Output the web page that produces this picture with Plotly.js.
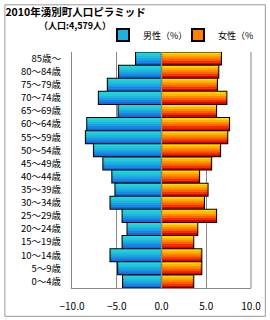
<!DOCTYPE html>
<html><head><meta charset="utf-8">
<script src="https://cdn.plot.ly/plotly-3.0.1.min.js"></script>
<style>html,body{margin:0;padding:0;background:#fff;}#chart{width:270px;height:320px;}</style>
</head><body><div id="chart"></div>
<script>
// Categories listed bottom to top
const ageGroups = ['0〜4歳','5〜9歳','10〜14歳','15〜19歳','20〜24歳','25〜29歳','30〜34歳','35〜39歳','40〜44歳','45〜49歳','50〜54歳','55〜59歳','60〜64歳','65〜69歳','70〜74歳','75〜79歳','80〜84歳','85歳〜'];
const malePct   = [4.3, 4.85, 5.7, 4.35, 3.8, 4.35, 5.7, 5.15, 5.5, 6.5, 7.55, 8.45, 8.3, 4.8, 7.0, 6.0, 4.75, 2.85];
const femalePct = [3.55, 4.45, 4.45, 3.55, 4.0, 6.1, 4.75, 5.15, 4.2, 5.55, 6.55, 7.35, 7.55, 6.1, 7.25, 6.2, 6.35, 6.65];
const xTicks = [-10, -5, 0, 5, 10];
const seriesNames = ['男性（%）', '女性（%）'];

const maleGrad = ['#1668e0','#1a84e0','#1c9fe0','#1fb6de','#22c8dc','#26d6d6'];
const femaleGrad = ['#dc0000','#f03000','#ff6000','#ff8c00','#ffb400','#ffd800'];
const W = 0.92;
const N = maleGrad.length;
const maleX = malePct.map(v => -v);

const traces = [];
traces.push({type:'bar', orientation:'h', y:ageGroups, x:maleX, name:seriesNames[0], width:W,
  marker:{color:'#1fb0de', line:{color:'#000', width:2}}, hoverinfo:'skip'});
traces.push({type:'bar', orientation:'h', y:ageGroups, x:femalePct, name:seriesNames[1], width:W,
  marker:{color:'#ff8000', line:{color:'#000', width:2}}, hoverinfo:'skip'});
for (let i = 0; i < N; i++) {
  traces.push({type:'bar', orientation:'h', y:ageGroups, x:maleX, width:W/N, offset:-W/2 + i*W/N,
    marker:{color:maleGrad[i], line:{width:0}}, showlegend:false, hoverinfo:'skip'});
  traces.push({type:'bar', orientation:'h', y:ageGroups, x:femalePct, width:W/N, offset:-W/2 + i*W/N,
    marker:{color:femaleGrad[i], line:{width:0}}, showlegend:false, hoverinfo:'skip'});
}

const layout = {
  width:270, height:320,
  margin:{l:72, r:19, t:52, b:32},
  paper_bgcolor:'#fff', plot_bgcolor:'#fff',
  barmode:'overlay',
  font:{family:'"Noto Sans CJK JP", sans-serif', color:'#000', size:10},
  xaxis:{range:[-10,10], tickvals:xTicks, tickformat:'.1f', showgrid:true, gridcolor:'#888', gridwidth:1,
    zeroline:true, zerolinecolor:'#888', zerolinewidth:1, showline:true, linecolor:'#888', linewidth:1,
    mirror:false, ticks:'', ticklabelstandoff:9, tickfont:{size:10}, fixedrange:true},
  yaxis:{type:'category', showgrid:false, zeroline:false, showline:true, linecolor:'#888', linewidth:1,
    ticks:'', ticklabelstandoff:8, tickfont:{size:9.5}, fixedrange:true},
  showlegend:true,
  legend:{orientation:'h', x:(103-72)/179, y:(288-35)/236, xanchor:'left', yanchor:'middle', font:{size:9},
    bgcolor:'rgba(0,0,0,0)', itemwidth:30, entrywidth:30, entrywidthmode:'pixels', tracegroupgap:0},
  title:{text:'<b>2010年湧別町人口ピラミッド</b>', x:0.02, xanchor:'left', y:0.96, yanchor:'middle',
    font:{size:10.5, color:'#000'}},
  annotations:[{text:'<b>（人口:4,579人）</b>', xref:'paper', yref:'paper', x:(113-72)/179, xanchor:'right',
    y:(288-25)/236, yanchor:'middle', showarrow:false, font:{size:9, color:'#000'}}],
  shapes:[{type:'rect', xref:'paper', yref:'paper', x0:-0.375, x1:1.08, y0:-0.12, y1:1.2,
    line:{color:'#999', width:1}, fillcolor:'rgba(0,0,0,0)', layer:'below'},
    {type:'line', xref:'paper', yref:'paper', x0:1, x1:1, y0:0, y1:1, line:{color:'#888', width:1}},
    {type:'line', xref:'x', yref:'paper', x0:0, x1:0, y0:0, y1:1, line:{color:'#888', width:1.5}, layer:'above'}]
};
Plotly.newPlot('chart', traces, layout, {staticPlot:true, displayModeBar:false});
</script></body></html>
